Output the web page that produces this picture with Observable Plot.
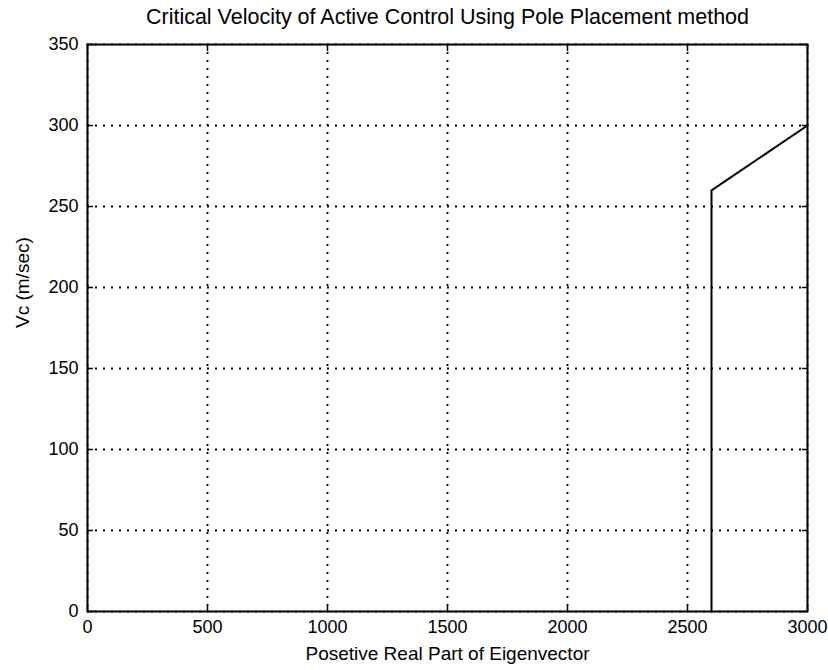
<!DOCTYPE html>
<html>
<head>
<meta charset="utf-8">
<script src="https://cdn.jsdelivr.net/npm/d3@7"></script>
<script src="https://cdn.jsdelivr.net/npm/@observablehq/plot@0.6"></script>
<style>
html, body { margin: 0; padding: 0; background: #fff; }
</style>
</head>
<body>
<div id="chart"></div>
<script>
// Data
const eigenReal = [2600, 2600, 3000];
const criticalVelocity = [0, 260, 300];
const xTicks = [0, 500, 1000, 1500, 2000, 2500, 3000];
const yTicks = [0, 50, 100, 150, 200, 250, 300, 350];
const titleText = "Critical Velocity of Active Control Using Pole Placement method";
const xLabel = "Posetive Real Part of Eigenvector";
const yLabel = "Vc (m/sec)";

const data = eigenReal.map((x, i) => ({x, y: criticalVelocity[i]}));

const font = "'Liberation Sans', Arial, Helvetica, sans-serif";
const dotted = "2,6";
const fmt = d3.format("d");

const chart = Plot.plot({
  width: 828,
  height: 670,
  marginLeft: 87,
  marginRight: 21,
  marginTop: 44,
  marginBottom: 59,
  style: {fontFamily: font, fontSize: "18px", background: "#fff", color: "#000"},
  x: {domain: [0, 3000]},
  y: {domain: [0, 350]},
  marks: [
    Plot.gridX(xTicks, {stroke: "#000", strokeOpacity: 1, strokeWidth: 1.8, strokeDasharray: dotted}),
    Plot.gridY(yTicks, {stroke: "#000", strokeOpacity: 1, strokeWidth: 1.8, strokeDasharray: dotted}),
    Plot.axisX(xTicks, {anchor: "bottom", tickSize: -6, tickPadding: 15, tickFormat: fmt, fontSize: 18, label: null, strokeWidth: 1.5}),
    Plot.axisX(xTicks, {anchor: "top", tickSize: -6, tickFormat: () => "", label: null, strokeWidth: 1.5}),
    Plot.axisY(yTicks, {anchor: "left", tickSize: -6, tickPadding: 15, tickFormat: fmt, fontSize: 18, label: null, strokeWidth: 1.5}),
    Plot.axisY(yTicks, {anchor: "right", tickSize: -6, tickFormat: () => "", label: null, strokeWidth: 1.5}),
    Plot.frame({stroke: "#000", strokeWidth: 2}),
    Plot.line(data, {x: "x", y: "y", stroke: "#000", strokeWidth: 2}),
    Plot.text([titleText], {text: d => d, frameAnchor: "top", dy: -28, lineAnchor: "middle", fontSize: 22, className: "chart-title"}),
    Plot.text([xLabel], {text: d => d, frameAnchor: "bottom", dy: 42, lineAnchor: "middle", fontSize: 19}),
    Plot.text([yLabel], {text: d => d, frameAnchor: "left", dx: -65, rotate: -90, lineAnchor: "middle", fontSize: 19})
  ]
});

document.getElementById("chart").appendChild(chart);

// Compress the title horizontally to match the narrow original lettering
const t = chart.querySelector(".chart-title text");
if (t) {
  t.setAttribute("textLength", "603");
  t.setAttribute("lengthAdjust", "spacingAndGlyphs");
}
</script>
</body>
</html>
